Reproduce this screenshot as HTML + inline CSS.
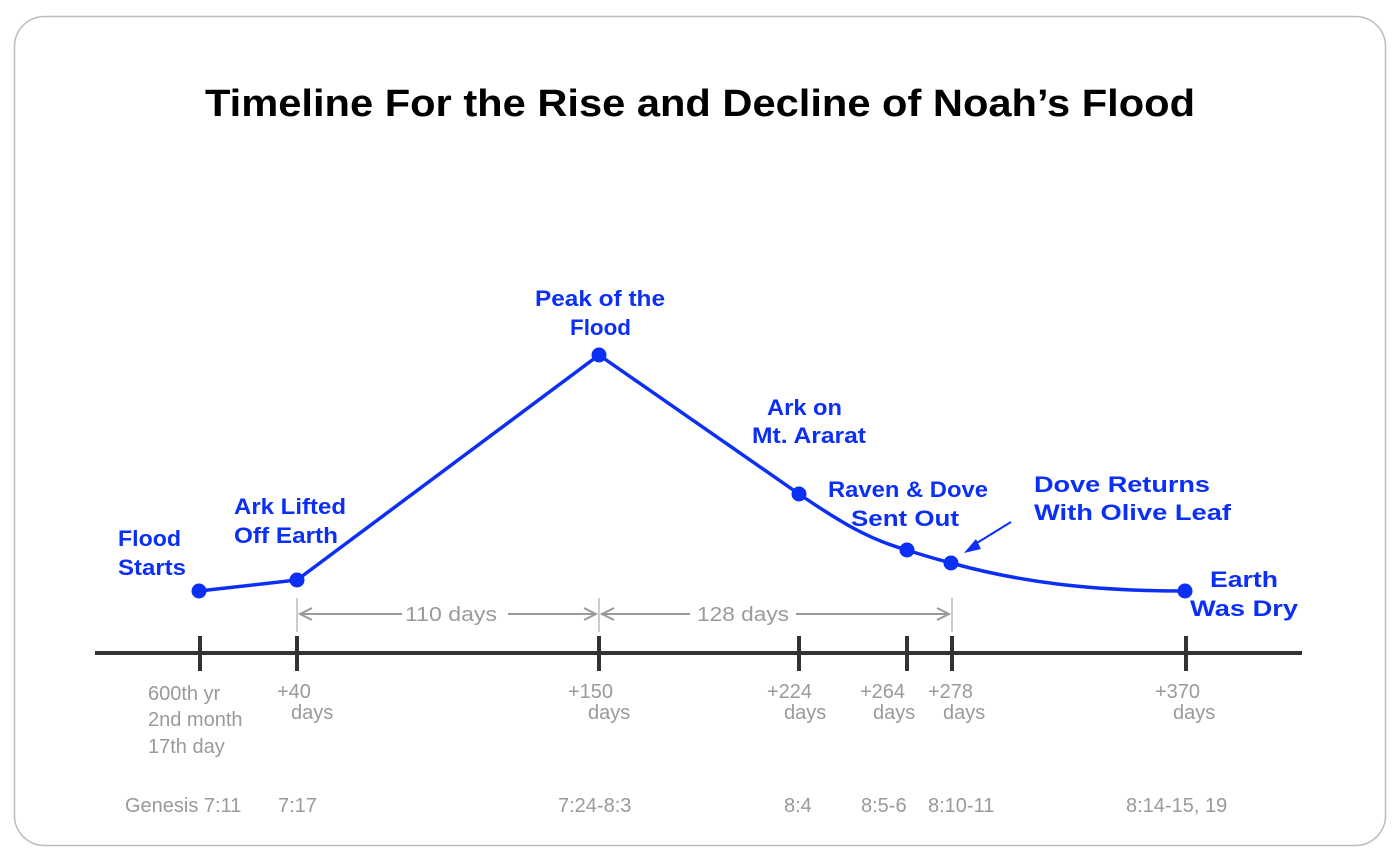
<!DOCTYPE html>
<html><head><meta charset="utf-8"><style>
html,body{margin:0;padding:0;background:#fff;}
svg{display:block;font-family:"Liberation Sans","DejaVu Sans",sans-serif;}
.b{fill:#0b2ff5;font-size:22px;font-weight:bold;}
.g{fill:#9a9a9a;font-size:20px;}
</style></head><body>
<svg width="1400" height="854" viewBox="0 0 1400 854">
<rect x="14.5" y="16.5" width="1371" height="829" rx="30" fill="#fff" stroke="#bdbdbd" stroke-width="1.5"/>
<text x="205" y="116" font-size="38" font-weight="bold" fill="#000" textLength="990" lengthAdjust="spacingAndGlyphs">Timeline For the Rise and Decline of Noah’s Flood</text>
<g stroke="#aaa" stroke-width="1.2">
<line x1="297" y1="598" x2="297" y2="632"/><line x1="599" y1="598" x2="599" y2="632"/><line x1="952" y1="598" x2="952" y2="632"/>
</g>
<g stroke="#999" stroke-width="2" fill="none">
<line x1="300" y1="614" x2="402" y2="614"/><line x1="508" y1="614" x2="596" y2="614"/>
<line x1="602" y1="614" x2="690" y2="614"/><line x1="796" y1="614" x2="949" y2="614"/>
<path d="M312 608 L300 614 L312 620"/><path d="M584 608 L596 614 L584 620"/>
<path d="M614 608 L602 614 L614 620"/><path d="M937 608 L949 614 L937 620"/>
</g>
<text class="g" x="405" y="621" textLength="92" lengthAdjust="spacingAndGlyphs">110 days</text>
<text class="g" x="697" y="621" textLength="92" lengthAdjust="spacingAndGlyphs">128 days</text>
<line x1="95" y1="653" x2="1302" y2="653" stroke="#333" stroke-width="4"/>
<g stroke="#333" stroke-width="4">
<line x1="200" y1="636" x2="200" y2="671"/><line x1="297" y1="636" x2="297" y2="671"/><line x1="599" y1="636" x2="599" y2="671"/>
<line x1="799" y1="636" x2="799" y2="671"/><line x1="907" y1="636" x2="907" y2="671"/><line x1="952" y1="636" x2="952" y2="671"/><line x1="1186" y1="636" x2="1186" y2="671"/>
</g>
<path d="M199 591 L297 580 L599 355 L799 494 C840 522 870 540 907 550 C922 555 936 559 951 563 C1020 582 1090 591 1185 591" fill="none" stroke="#0b2ff5" stroke-width="3.5"/>
<g fill="#0b2ff5">
<circle cx="199" cy="591" r="7.5"/><circle cx="297" cy="580" r="7.5"/><circle cx="599" cy="355" r="7.5"/><circle cx="799" cy="494" r="7.5"/><circle cx="907" cy="550" r="7.5"/><circle cx="951" cy="563" r="7.5"/><circle cx="1185" cy="591" r="7.5"/>
</g>
<line x1="1011" y1="522" x2="972" y2="546" stroke="#0b2ff5" stroke-width="2"/>
<path d="M964 553 L976 539 L981 549 Z" fill="#0b2ff5"/>
<text class="b" x="118" y="546" textLength="63" lengthAdjust="spacingAndGlyphs">Flood</text><text class="b" x="118" y="575" textLength="68" lengthAdjust="spacingAndGlyphs">Starts</text>
<text class="b" x="234" y="514" textLength="112" lengthAdjust="spacingAndGlyphs">Ark Lifted</text><text class="b" x="234" y="543" textLength="104" lengthAdjust="spacingAndGlyphs">Off Earth</text>
<text class="b" x="535" y="306" textLength="130" lengthAdjust="spacingAndGlyphs">Peak of the</text><text class="b" x="570" y="335" textLength="61" lengthAdjust="spacingAndGlyphs">Flood</text>
<text class="b" x="767" y="415" textLength="75" lengthAdjust="spacingAndGlyphs">Ark on</text><text class="b" x="752" y="443" textLength="114" lengthAdjust="spacingAndGlyphs">Mt. Ararat</text>
<text class="b" x="828" y="497" textLength="160" lengthAdjust="spacingAndGlyphs">Raven &amp; Dove</text><text class="b" x="851" y="526" textLength="108" lengthAdjust="spacingAndGlyphs">Sent Out</text>
<text class="b" x="1034" y="492" textLength="176" lengthAdjust="spacingAndGlyphs">Dove Returns</text><text class="b" x="1034" y="520" textLength="197" lengthAdjust="spacingAndGlyphs">With Olive Leaf</text>
<text class="b" x="1210" y="587" textLength="68" lengthAdjust="spacingAndGlyphs">Earth</text><text class="b" x="1190" y="616" textLength="108" lengthAdjust="spacingAndGlyphs">Was Dry</text>
<g class="g">
<text x="148" y="700">600th yr</text><text x="148" y="726">2nd month</text><text x="148" y="753">17th day</text>
<text x="277" y="698">+40</text><text x="291" y="719">days</text>
<text x="568" y="698">+150</text><text x="588" y="719">days</text>
<text x="767" y="698">+224</text><text x="784" y="719">days</text>
<text x="860" y="698">+264</text><text x="873" y="719">days</text>
<text x="928" y="698">+278</text><text x="943" y="719">days</text>
<text x="1155" y="698">+370</text><text x="1173" y="719">days</text>
<text x="125" y="812">Genesis 7:11</text><text x="278" y="812">7:17</text>
<text x="558" y="812">7:24-8:3</text><text x="784" y="812">8:4</text>
<text x="861" y="812">8:5-6</text><text x="928" y="812">8:10-11</text><text x="1126" y="812">8:14-15, 19</text>
</g>
</svg>
</body></html>
